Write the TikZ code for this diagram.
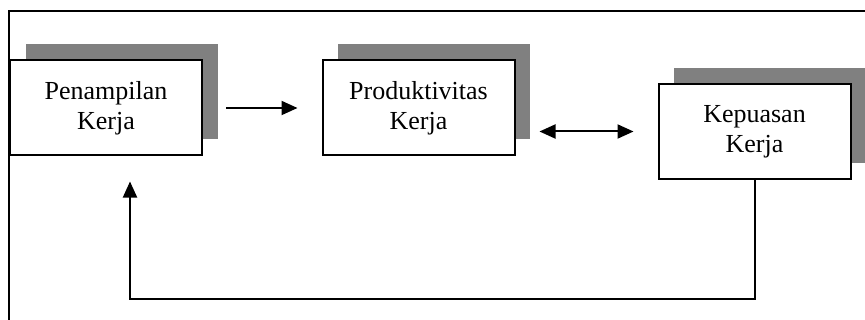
\documentclass[tikz,border=0pt]{standalone}
\usepackage{fontspec}
\setmainfont{Liberation Serif}
\usetikzlibrary{shadows}
\usetikzlibrary{positioning}
\usetikzlibrary{arrows.meta}
\usetikzlibrary{calc}
\tikzstyle{kotak}=[rectangle,draw=black,fill=white,line width=1pt,minimum width=96pt,minimum height=47.5pt,inner sep=0pt,align=center,font=\fontsize{13}{15}\selectfont,drop shadow={shadow xshift=7.75pt,shadow yshift=8pt,fill=gray,opacity=1}]
\tikzstyle{edge} = [draw,line width=1pt,-{Triangle[length=8pt,width=7pt]}]
\tikzstyle{twoway} = [draw,line width=1pt,{Triangle[length=8pt,width=7pt]}-{Triangle[length=8pt,width=7pt]}]
\tikzstyle{frame} = [draw,line width=1pt]

\begin{document}
\begin{tikzpicture}[x=0.5pt,y=-0.5pt]

  \useasboundingbox (0,0) rectangle (865,320);

  % outer frame, cut off on the right and at the bottom
  \path[frame] (880,11) -| (8.5,335);

  \foreach \x/\y/\name/\label in {106/108/pen/{Penampilan\\Kerja}, 418.5/108/prod/{Produktivitas\\Kerja}, 754.5/131.5/kep/{Kepuasan\\Kerja}}
          \node[kotak] (\name) at (\x, \y) {\label};

  \coordinate (back) at ($(pen.south)+(24,25)$);

  \path[edge, shorten <=11.5pt, shorten >=12pt] (pen) -- (prod);
  \path[twoway, shorten <=12pt, shorten >=12pt] (prod.east |- kep.west) -- (kep.west);
  \path[edge] (kep.south) -- ++(0,119) -| (back);

\end{tikzpicture}
\end{document}
